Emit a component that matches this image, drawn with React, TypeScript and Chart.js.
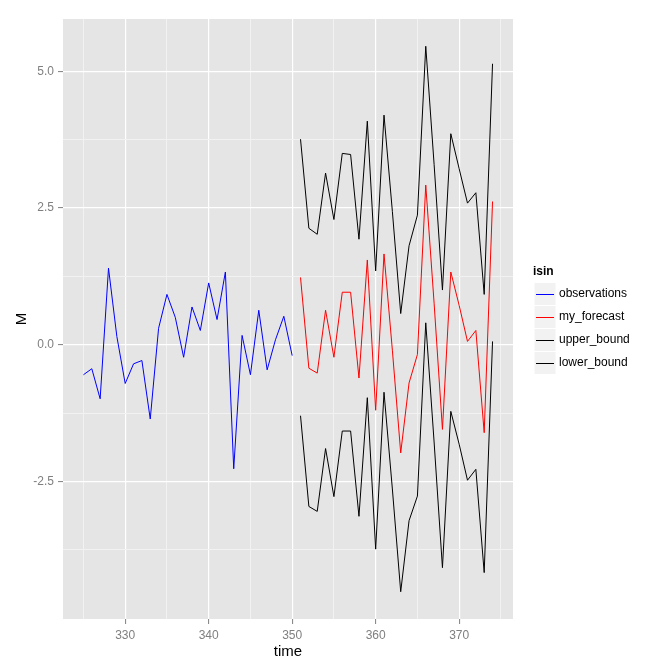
import React, { useEffect, useRef } from 'react';
import { Chart, registerables } from 'chart.js';

Chart.register(...registerables);

// ---- data ----
const obsTime = [325, 326, 327, 328, 329, 330, 331, 332, 333, 334, 335, 336, 337, 338, 339, 340, 341, 342, 343, 344, 345, 346, 347, 348, 349, 350];
const observations = [-0.55, -0.44, -0.99, 1.40, 0.15, -0.71, -0.35, -0.29, -1.36, 0.30, 0.92, 0.50, -0.23, 0.69, 0.26, 1.13, 0.46, 1.33, -2.27, 0.17, -0.55, 0.63, -0.46, 0.09, 0.52, -0.20];

const fcTime = [351, 352, 353, 354, 355, 356, 357, 358, 359, 360, 361, 362, 363, 364, 365, 366, 367, 368, 369, 370, 371, 372, 373, 374];
const myForecast = [1.23, -0.43, -0.52, 0.63, -0.23, 0.96, 0.96, -0.61, 1.55, -1.20, 1.66, -0.10, -1.98, -0.70, -0.18, 2.92, 0.76, -1.55, 1.33, 0.72, 0.06, 0.26, -1.61, 2.62];
const upperBound = [3.76, 2.13, 2.02, 3.14, 2.29, 3.50, 3.48, 1.93, 4.09, 1.35, 4.20, 2.44, 0.57, 1.81, 2.37, 5.46, 3.30, 1.00, 3.86, 3.22, 2.59, 2.78, 0.92, 5.14];
const lowerBound = [-1.30, -2.96, -3.05, -1.90, -2.78, -1.58, -1.58, -3.14, -0.97, -3.74, -0.87, -2.64, -4.52, -3.22, -2.77, 0.40, -1.78, -4.08, -1.22, -1.82, -2.48, -2.28, -4.17, 0.06];

const seriesNames = ['observations', 'my_forecast', 'upper_bound', 'lower_bound'];
const seriesColors = ['#0000FF', '#FF0000', '#000000', '#000000'];
const legendTitle = 'isin';
const xTitle = 'time';
const yTitle = 'M';

const xMajorTicks = [330, 340, 350, 360, 370];
const xMinorTicks = [325, 335, 345, 355, 365, 375];
const yMajorTicks = [-2.5, 0, 2.5, 5];
const yMinorTicks = [-3.75, -1.25, 1.25, 3.75];

const FONT = "'Liberation Sans', Arial, sans-serif";

function expand(vals: number[]): [number, number] {
  const mn = Math.min(...vals);
  const mx = Math.max(...vals);
  const d = (mx - mn) * 0.05;
  return [mn - d, mx + d];
}

function isIn(list: number[], v: number) {
  return list.some((m) => Math.abs(m - v) < 1e-9);
}

const toPts = (xs: number[], ys: number[]) => xs.map((x, i) => ({ x, y: ys[i] }));

const panelBg = {
  id: 'panelBg',
  beforeDraw(chart: any) {
    const { ctx, chartArea } = chart;
    ctx.save();
    ctx.fillStyle = '#E5E5E5';
    ctx.fillRect(chartArea.left, chartArea.top, chartArea.right - chartArea.left, chartArea.bottom - chartArea.top);
    ctx.restore();
  },
};

const ggLegend = {
  id: 'ggLegend',
  afterDraw(chart: any) {
    const { ctx } = chart;
    ctx.save();
    ctx.textBaseline = 'middle';
    ctx.textAlign = 'left';
    ctx.fillStyle = '#000000';
    ctx.font = `bold 12px ${FONT}`;
    ctx.fillText(legendTitle, 533, 272);
    const keyX = 534;
    const keyW = 22;
    const rowH = 23;
    const top0 = 282.5;
    chart.data.datasets.forEach((ds: any, i: number) => {
      const y0 = top0 + i * rowH;
      ctx.fillStyle = '#F2F2F2';
      ctx.fillRect(keyX, y0, keyW, rowH);
      ctx.strokeStyle = '#FFFFFF';
      ctx.lineWidth = 1;
      ctx.strokeRect(keyX, y0, keyW, rowH);
      const cy = Math.round(y0 + rowH / 2) + 0.5;
      ctx.strokeStyle = ds.borderColor;
      ctx.beginPath();
      ctx.moveTo(keyX + 2, cy);
      ctx.lineTo(keyX + keyW - 2, cy);
      ctx.stroke();
      ctx.fillStyle = '#000000';
      ctx.font = `12px ${FONT}`;
      ctx.fillText(ds.label, 559, y0 + rowH / 2);
    });
    ctx.restore();
  },
};

export default function App() {
  const ref = useRef<HTMLCanvasElement | null>(null);

  useEffect(() => {
    if (!ref.current) return;
    const [xMin, xMax] = expand([...obsTime, ...fcTime]);
    const [yMin, yMax] = expand([...observations, ...myForecast, ...upperBound, ...lowerBound]);
    const seriesData = [
      toPts(obsTime, observations),
      toPts(fcTime, myForecast),
      toPts(fcTime, upperBound),
      toPts(fcTime, lowerBound),
    ];
    const xAll = [...xMajorTicks, ...xMinorTicks].sort((a, b) => a - b);
    const yAll = [...yMajorTicks, ...yMinorTicks].sort((a, b) => a - b);

    const chart = new Chart(ref.current, {
      type: 'line',
      data: {
        datasets: seriesNames.map((name, i) => ({
          label: name,
          data: seriesData[i],
          borderColor: seriesColors[i],
          backgroundColor: seriesColors[i],
          borderWidth: 1,
          pointRadius: 0,
          tension: 0,
          fill: false,
          order: seriesNames.length - i,
        })),
      },
      options: {
        animation: false,
        responsive: false,
        maintainAspectRatio: false,
        layout: { padding: { top: 19, right: 159, left: 0, bottom: 0 } },
        plugins: { legend: { display: false }, tooltip: { enabled: false } },
        scales: {
          x: {
            type: 'linear',
            min: xMin,
            max: xMax,
            afterBuildTicks: (s: any) => {
              s.ticks = xAll.map((v) => ({ value: v }));
            },
            afterFit: (s: any) => {
              s.height = 53;
            },
            ticks: {
              autoSkip: false,
              maxRotation: 0,
              padding: 4,
              color: '#7F7F7F',
              font: { family: FONT, size: 12 },
              callback: (v: any) => (isIn(xMajorTicks, Number(v)) ? String(v) : ''),
            },
            grid: {
              color: (c: any) => (c.tick && isIn(xMajorTicks, c.tick.value) ? '#FFFFFF' : '#F2F2F2'),
              lineWidth: (c: any) => (c.tick && isIn(xMajorTicks, c.tick.value) ? 1.2 : 1),
              tickColor: (c: any) => (c.tick && isIn(xMajorTicks, c.tick.value) ? '#7F7F7F' : 'rgba(0,0,0,0)'),
              tickLength: 5,
              tickWidth: 1,
            },
            border: { display: false },
            title: {
              display: true,
              text: xTitle,
              color: '#000000',
              font: { family: FONT, size: 15 },
              padding: { top: 0, bottom: 11 },
            },
          },
          y: {
            type: 'linear',
            min: yMin,
            max: yMax,
            afterBuildTicks: (s: any) => {
              s.ticks = yAll.map((v) => ({ value: v }));
            },
            afterFit: (s: any) => {
              s.width = 63;
            },
            ticks: {
              autoSkip: false,
              padding: 4,
              color: '#7F7F7F',
              font: { family: FONT, size: 12 },
              callback: (v: any) => (isIn(yMajorTicks, Number(v)) ? Number(v).toFixed(1) : ''),
            },
            grid: {
              color: (c: any) => (c.tick && isIn(yMajorTicks, c.tick.value) ? '#FFFFFF' : '#F2F2F2'),
              lineWidth: (c: any) => (c.tick && isIn(yMajorTicks, c.tick.value) ? 1.2 : 1),
              tickColor: (c: any) => (c.tick && isIn(yMajorTicks, c.tick.value) ? '#7F7F7F' : 'rgba(0,0,0,0)'),
              tickLength: 5,
              tickWidth: 1,
            },
            border: { display: false },
            title: {
              display: true,
              text: yTitle,
              color: '#000000',
              font: { family: FONT, size: 15 },
              padding: { top: 13, bottom: 0 },
            },
          },
        },
      },
      plugins: [panelBg, ggLegend],
    } as any);

    return () => chart.destroy();
  }, []);

  return (
    <div style={{ position: 'absolute', left: 0, top: 0, width: 672, height: 672, background: '#FFFFFF' }}>
      <canvas ref={ref} width={672} height={672} style={{ width: 672, height: 672, display: 'block' }} />
    </div>
  );
}
